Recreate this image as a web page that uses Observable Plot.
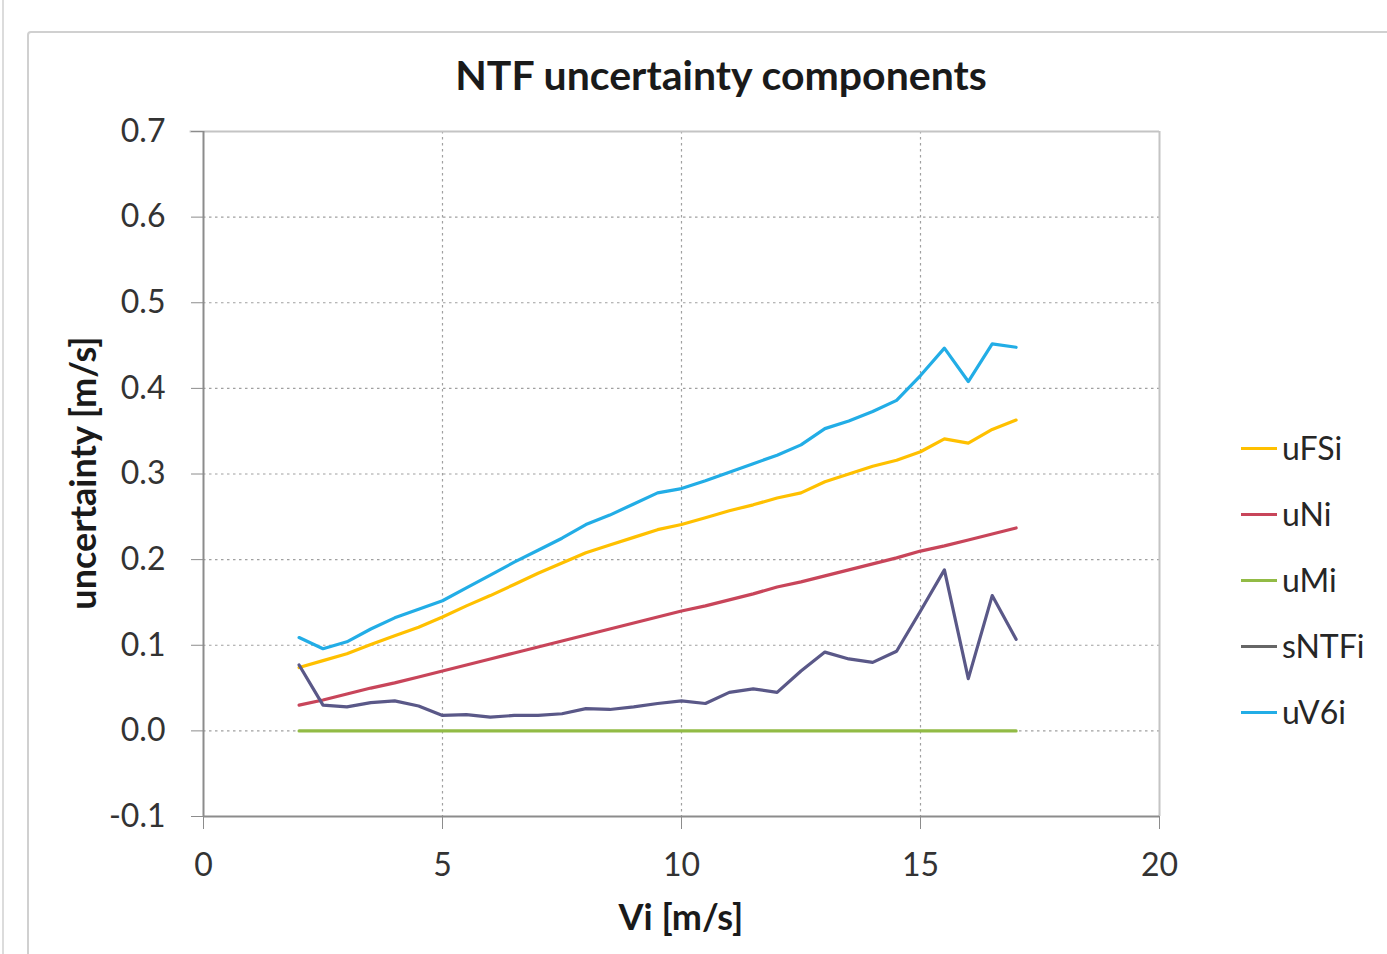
<!DOCTYPE html>
<html>
<head>
<meta charset="utf-8">
<script src="https://cdn.jsdelivr.net/npm/d3@7"></script>
<script src="https://cdn.jsdelivr.net/npm/@observablehq/plot@0.6"></script>
<style>
  html, body { margin: 0; padding: 0; background: #fff; }
  body { width: 1387px; height: 954px; position: relative; overflow: hidden; font-family: Lato, "Open Sans", sans-serif; color: #262626; }
  #leftline { position: absolute; left: 2px; top: 0; width: 0; height: 954px; border-left: 2px solid #dcdcdc; }
  #frame { position: absolute; left: 27px; top: 31px; width: 1400px; height: 960px; border: 2px solid #d0d0d0; border-radius: 4px; box-sizing: border-box; }
  #chart { position: absolute; left: 0; top: 0; }
  .title { position: absolute; left: 721px; top: 74px; transform: translate(-50%, -50%); font-weight: 700; font-size: 41px; white-space: nowrap; color: #1a1a1a; }
  .ylab { position: absolute; left: 82px; top: 473px; transform: translate(-50%, -50%) rotate(-90deg); font-weight: 700; font-size: 36px; white-space: nowrap; color: #1a1a1a; }
  .xlab { position: absolute; left: 681px; top: 916px; transform: translate(-50%, -50%); font-weight: 700; font-size: 36px; white-space: nowrap; color: #1a1a1a; }
  .legend { position: absolute; left: 1241px; top: 448px; }
  .legend .item { position: absolute; left: 0; height: 0; white-space: nowrap; }
  .legend .sw { position: absolute; left: 0; top: -1.5px; width: 36px; height: 3px; }
  .legend .lb { position: absolute; left: 41px; top: 0; transform: translateY(-52%); font-size: 32px; color: #262626; }
</style>
</head>
<body>
<div id="leftline"></div>
<div id="frame"></div>
<div id="chart"></div>
<div class="title">NTF uncertainty components</div>
<div class="ylab">uncertainty [m/s]</div>
<div class="xlab">Vi [m/s]</div>
<div class="legend" id="legend"></div>
<script>
// ---- data ----
const Vi = [2, 2.5, 3, 3.5, 4, 4.5, 5, 5.5, 6, 6.5, 7, 7.5, 8, 8.5, 9, 9.5, 10, 10.5, 11, 11.5, 12, 12.5, 13, 13.5, 14, 14.5, 15, 15.5, 16, 16.5, 17];
const uFSi = [0.074, 0.082, 0.090, 0.101, 0.111, 0.121, 0.133, 0.146, 0.158, 0.171, 0.184, 0.196, 0.208, 0.217, 0.226, 0.235, 0.241, 0.249, 0.257, 0.264, 0.272, 0.278, 0.291, 0.300, 0.309, 0.316, 0.326, 0.341, 0.336, 0.352, 0.363];
const uNi = [0.030, 0.036, 0.043, 0.050, 0.056, 0.063, 0.070, 0.077, 0.084, 0.091, 0.098, 0.105, 0.112, 0.119, 0.126, 0.133, 0.140, 0.146, 0.153, 0.160, 0.168, 0.174, 0.181, 0.188, 0.195, 0.202, 0.210, 0.216, 0.223, 0.230, 0.237];
const uMi = [0, 0, 0, 0, 0, 0, 0, 0, 0, 0, 0, 0, 0, 0, 0, 0, 0, 0, 0, 0, 0, 0, 0, 0, 0, 0, 0, 0, 0, 0, 0];
const sNTFi = [0.077, 0.030, 0.028, 0.033, 0.035, 0.029, 0.018, 0.019, 0.016, 0.018, 0.018, 0.020, 0.026, 0.025, 0.028, 0.032, 0.035, 0.032, 0.045, 0.049, 0.045, 0.070, 0.092, 0.084, 0.080, 0.093, 0.140, 0.188, 0.061, 0.158, 0.107];
const uV6i = [0.109, 0.096, 0.104, 0.119, 0.132, 0.142, 0.152, 0.167, 0.182, 0.197, 0.211, 0.225, 0.241, 0.252, 0.265, 0.278, 0.283, 0.292, 0.302, 0.312, 0.322, 0.334, 0.353, 0.362, 0.373, 0.386, 0.415, 0.447, 0.408, 0.452, 0.448];

const seriesNames = ["uFSi", "uNi", "uMi", "sNTFi", "uV6i"];
const seriesValues = [uFSi, uNi, uMi, sNTFi, uV6i];
const seriesColors = ["#FFC000", "#C8455A", "#92BB45", "#5A5888", "#22ADE6"];
const legendColors = ["#FFC000", "#C8455A", "#92BB45", "#666666", "#22ADE6"];

const xTicks = [0, 5, 10, 15, 20];
const yTicks = [-0.1, 0.0, 0.1, 0.2, 0.3, 0.4, 0.5, 0.6, 0.7];

// long table
const rows = [];
seriesNames.forEach((name, si) => {
  Vi.forEach((v, i) => rows.push({series: name, x: v, y: seriesValues[si][i]}));
});

const chart = Plot.plot({
  width: 1387,
  height: 954,
  marginLeft: 203,
  marginRight: 228,
  marginTop: 131,
  marginBottom: 138,
  style: {fontFamily: "Lato, 'Open Sans', sans-serif", background: "transparent", color: "#333"},
  x: {domain: [0, 20]},
  y: {domain: [-0.1, 0.7]},
  color: {domain: seriesNames, range: seriesColors},
  marks: [
    Plot.gridY(yTicks.slice(1, -1), {stroke: "#a0a0a0", strokeOpacity: 1, strokeWidth: 1.2, strokeDasharray: "2.5,3.5"}),
    Plot.gridX(xTicks.slice(1, -1), {stroke: "#a0a0a0", strokeOpacity: 1, strokeWidth: 1.2, strokeDasharray: "2.5,3.5"}),
    Plot.ruleY([0.7], {stroke: "#c4c4c4", strokeWidth: 2, x1: -0.28, x2: 20}),
    Plot.ruleX([20], {stroke: "#c4c4c4", strokeWidth: 2}),
    Plot.axisY(yTicks, {tickSize: 12, tickPadding: 26, tickFormat: d => d.toFixed(1), fontSize: 32, stroke: "#8c8c8c", fill: "#333", label: null}),
    Plot.axisX(xTicks, {tickSize: 13, tickPadding: 24, tickFormat: d => String(d), fontSize: 32, stroke: "#8c8c8c", fill: "#333", label: null}),
    Plot.ruleX([0], {stroke: "#8c8c8c", strokeWidth: 2}),
    Plot.ruleY([-0.1], {stroke: "#8c8c8c", strokeWidth: 2}),
    Plot.line(rows, {x: "x", y: "y", z: "series", stroke: "series", strokeWidth: 3.2, strokeLinejoin: "round"})
  ]
});
document.getElementById("chart").appendChild(chart);

// legend
const legend = document.getElementById("legend");
seriesNames.forEach((name, i) => {
  const item = document.createElement("div");
  item.className = "item";
  item.style.top = (i * 66) + "px";
  item.innerHTML = `<div class="sw" style="background:${legendColors[i]}"></div><div class="lb">${name}</div>`;
  legend.appendChild(item);
});
</script>
</body>
</html>
